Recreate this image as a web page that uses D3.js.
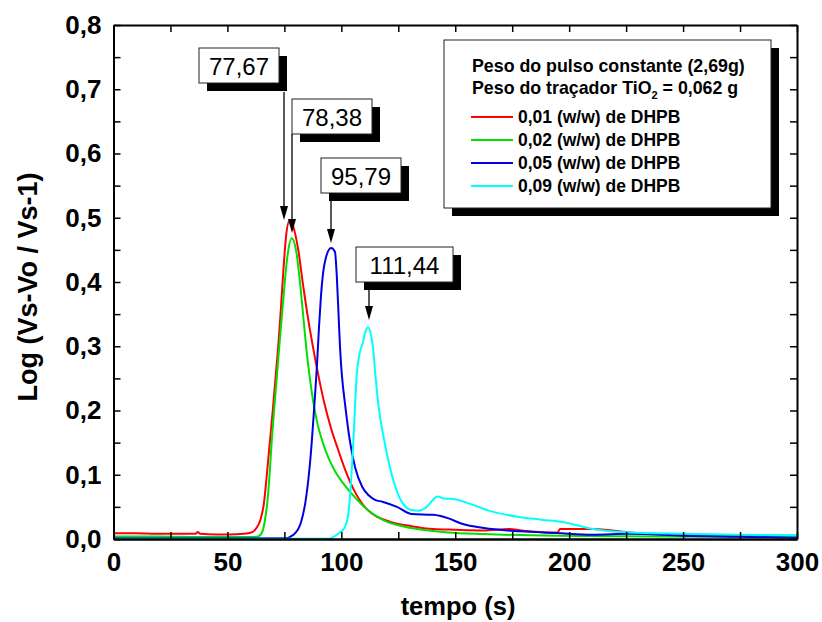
<!DOCTYPE html>
<html>
<head>
<meta charset="utf-8">
<script src="https://cdn.jsdelivr.net/npm/d3@7/dist/d3.min.js"></script>
<style>
  html, body { margin: 0; padding: 0; background: #fff; }
  svg { display: block; font-family: "Liberation Sans", Arial, sans-serif; }
</style>
</head>
<body>
<svg id="chart" width="822" height="622"></svg>
<script>
// ---------- DATA ----------
const seriesNames = ["0,01 (w/w) de DHPB", "0,02 (w/w) de DHPB", "0,05 (w/w) de DHPB", "0,09 (w/w) de DHPB"];
const seriesColors = ["#ff0000", "#00e000", "#0000e0", "#00ffff"];

// [tempo (s), Log(Vs-Vo/Vs-1)]
const red001 = [
  [0,0.009],[10,0.009],[20,0.008],[30,0.008],[36,0.008],[37,0.011],[38,0.008],[45,0.007],[51,0.007],[57,0.008],
  [60.5,0.010],[62.5,0.016],[64.5,0.030],[66,0.055],[67.3,0.100],[68.6,0.150],[69.9,0.200],[71.1,0.250],
  [72.3,0.300],[73.5,0.360],[74.6,0.420],[75.7,0.470],[77.2,0.495],[78.9,0.486],[81.1,0.450],[83.3,0.393],
  [85.5,0.341],[87.7,0.296],[89.9,0.255],[92.5,0.212],[95.5,0.172],[98.5,0.140],[102,0.105],[106,0.073],
  [111.6,0.045],[116,0.034],[121.2,0.027],[130.7,0.020],[140.3,0.0155],[149.8,0.0144],[162.6,0.0134],
  [173.7,0.0155],[180,0.013],[191.2,0.0103],[195,0.0105],[196,0.0155],[210.4,0.0155],[226,0.0103],
  [250,0.0067],[275,0.0058],[300,0.005]
];
const green002 = [
  [0,0.004],[20,0.004],[40,0.003],[55,0.003],[62,0.003],[64,0.005],[65.5,0.013],[66.5,0.030],[67.6,0.060],
  [68.6,0.105],[69.5,0.155],[70.6,0.205],[71.8,0.257],[73,0.310],[74.5,0.372],[76.3,0.439],[78.2,0.468],
  [80.1,0.450],[81.9,0.398],[83.3,0.346],[84.6,0.298],[86,0.255],[87.6,0.215],[89.5,0.180],[91.7,0.152],
  [94.5,0.125],[97.3,0.105],[100.5,0.088],[103.7,0.074],[110,0.050],[118,0.030],[130.7,0.017],
  [146.7,0.0103],[162.6,0.0077],[194.4,0.005],[242,0.004],[300,0.003]
];
const blue005 = [
  [0,0.001],[30,0.001],[60,0.001],[75,0.001],[79,0.0067],[82.2,0.025],[84.6,0.066],[86.5,0.128],[88.1,0.205],
  [89.3,0.270],[90.2,0.330],[91,0.375],[91.8,0.408],[93.3,0.439],[95.5,0.453],[97.2,0.447],[98,0.410],
  [98.7,0.356],[99.4,0.300],[100.2,0.257],[101.8,0.205],[103.7,0.154],[106,0.112],[109.2,0.081],[112,0.068],
  [114.8,0.061],[118,0.058],[124.4,0.050],[130.7,0.039],[140.3,0.0376],[146.7,0.0325],[153,0.0237],
  [162.6,0.017],[178.5,0.0119],[194.4,0.0093],[210.4,0.0067],[226.3,0.0082],[250,0.005],[275,0.0035],[300,0.002]
];
const cyan009 = [
  [0,0.0005],[40,0.0005],[80,0.0005],[94.1,0.0005],[98.9,0.009],[101.3,0.017],[102.9,0.035],[104,0.076],
  [105.3,0.154],[106.8,0.257],[108.1,0.290],[109.4,0.305],[110.5,0.322],[111.8,0.329],[113,0.318],[114,0.294],
  [114.9,0.257],[116.4,0.205],[118.8,0.154],[122,0.102],[126,0.061],[130.7,0.045],[133.9,0.044],[137.9,0.0515],
  [140.5,0.062],[142.3,0.066],[145.1,0.063],[149.8,0.062],[156.2,0.055],[165.8,0.043],[178.5,0.034],[188,0.030],
  [199.2,0.025],[210.4,0.0155],[226.3,0.0103],[250,0.0082],[273.9,0.0067],[300,0.0057]
];
const seriesData = [red001, green002, blue005, cyan009];

const xTicks = [0, 50, 100, 150, 200, 250, 300];
const xMinorTicks = [25, 75, 125, 175, 225, 275];
const yTicks = [0, 0.1, 0.2, 0.3, 0.4, 0.5, 0.6, 0.7, 0.8];
const yMinorTicks = [0.05, 0.15, 0.25, 0.35, 0.45, 0.55, 0.65, 0.75];

const peakLabels = ["77,67", "78,38", "95,79", "111,44"];
const legendTitle1 = "Peso do pulso constante (2,69g)";
const legendTitle2a = "Peso do traçador TiO";
const legendTitle2b = "2";
const legendTitle2c = " = 0,062 g";
const xTitle = "tempo (s)";
const yTitle = "Log (Vs-Vo / Vs-1)";

// ---------- LAYOUT ----------
const L = 113.5, R = 797, T = 25, B = 539;
const svg = d3.select("#chart");
const x = d3.scaleLinear().domain([0, 300]).range([L, R]);
const y = d3.scaleLinear().domain([0, 0.8]).range([B, T]);

svg.append("defs").append("clipPath").attr("id", "clip")
  .append("rect").attr("x", L).attr("y", T).attr("width", R - L).attr("height", B - T);

// curves
const line = d3.line().x(d => x(d[0])).y(d => y(d[1])).curve(d3.curveMonotoneX);
const gLines = svg.append("g").attr("clip-path", "url(#clip)");
seriesData.forEach((s, i) => {
  gLines.append("path").datum(s).attr("d", line)
    .attr("fill", "none").attr("stroke", seriesColors[i]).attr("stroke-width", 2)
    .attr("stroke-linejoin", "round");
});

// axes
const tickLen = 7;
function styleAxis(g) {
  g.selectAll(".domain").attr("stroke", "#000").attr("stroke-width", 2);
  g.selectAll(".tick line").attr("stroke", "#000").attr("stroke-width", 1.5);
  g.selectAll(".tick text").attr("fill", "#000").attr("font-weight", "bold").attr("font-size", 26)
    .attr("font-family", "'Liberation Sans', Arial, sans-serif");
}
svg.append("g").attr("transform", `translate(0,${B})`)
  .call(d3.axisBottom(x).tickValues(xTicks).tickSize(-tickLen).tickSizeOuter(0).tickPadding(14).tickFormat(d => String(d)))
  .call(styleAxis);
svg.append("g").attr("transform", `translate(0,${B})`)
  .call(d3.axisBottom(x).tickValues(xMinorTicks).tickSize(-tickLen).tickSizeOuter(0).tickFormat(""))
  .call(styleAxis);
svg.append("g").attr("transform", `translate(0,${T})`)
  .call(d3.axisTop(x).tickValues(xTicks.concat(xMinorTicks)).tickSize(-tickLen).tickSizeOuter(0).tickFormat(""))
  .call(styleAxis);
svg.append("g").attr("transform", `translate(${L},0)`)
  .call(d3.axisLeft(y).tickValues(yTicks).tickSize(-tickLen).tickSizeOuter(0).tickPadding(12).tickFormat(d => d.toFixed(1).replace(".", ",")))
  .call(styleAxis);
svg.append("g").attr("transform", `translate(${L},0)`)
  .call(d3.axisLeft(y).tickValues(yMinorTicks).tickSize(-tickLen).tickSizeOuter(0).tickFormat(""))
  .call(styleAxis);
svg.append("g").attr("transform", `translate(${R},0)`)
  .call(d3.axisRight(y).tickValues(yTicks.concat(yMinorTicks)).tickSize(-tickLen).tickSizeOuter(0).tickFormat(""))
  .call(styleAxis);

// axis titles
svg.append("text").attr("x", 458).attr("y", 615).attr("text-anchor", "middle")
  .attr("font-weight", "bold").attr("font-size", 25.5).text(xTitle);
svg.append("text").attr("transform", "translate(37,287) rotate(-90)").attr("text-anchor", "middle")
  .attr("font-weight", "bold").attr("font-size", 27).text(yTitle);

// annotations (boxes with drop shadows + arrows)
const annLayout = [
  { bx: 199, by: 48, bw: 80, bh: 35, ax: 284, ay0: 92, ay1: 220 },
  { bx: 292, by: 99, bw: 80, bh: 35, ax: 292, ay0: 134, ay1: 233 },
  { bx: 321, by: 158, bw: 80, bh: 35, ax: 331, ay0: 193, ay1: 243 },
  { bx: 356, by: 247, bw: 97, bh: 35, ax: 369, ay0: 290, ay1: 320 }
];
const gAnn = svg.append("g");
peakLabels.forEach((lab, i) => {
  const a = annLayout[i];
  gAnn.append("rect").attr("x", a.bx + 8).attr("y", a.by + 8).attr("width", a.bw).attr("height", a.bh).attr("fill", "#000");
  gAnn.append("rect").attr("x", a.bx).attr("y", a.by).attr("width", a.bw).attr("height", a.bh)
    .attr("fill", "#fff").attr("stroke", "#222").attr("stroke-width", 1);
  gAnn.append("text").attr("x", a.bx + a.bw / 2).attr("y", a.by + a.bh / 2 + 9).attr("text-anchor", "middle")
    .attr("font-size", 24).attr("fill", "#000").text(lab);
  gAnn.append("line").attr("x1", a.ax).attr("x2", a.ax).attr("y1", a.ay0).attr("y2", a.ay1 - 10)
    .attr("stroke", "#000").attr("stroke-width", 1.3);
  gAnn.append("path").attr("d", `M${a.ax - 4},${a.ay1 - 14} L${a.ax + 4},${a.ay1 - 14} L${a.ax},${a.ay1} Z`).attr("fill", "#000");
});

// legend
const lg = svg.append("g");
lg.append("rect").attr("x", 452).attr("y", 48).attr("width", 327).attr("height", 168).attr("fill", "#000");
lg.append("rect").attr("x", 444).attr("y", 40).attr("width", 327).attr("height", 168)
  .attr("fill", "#fff").attr("stroke", "#222").attr("stroke-width", 1);
lg.append("text").attr("x", 472).attr("y", 72).attr("font-weight", "bold").attr("font-size", 17.8).text(legendTitle1);
const t2 = lg.append("text").attr("x", 472).attr("y", 94).attr("font-weight", "bold").attr("font-size", 17.8);
t2.append("tspan").text(legendTitle2a);
t2.append("tspan").attr("font-size", 11).attr("dy", 5).text(legendTitle2b);
t2.append("tspan").attr("dy", -5).text(legendTitle2c);
const legY = [117, 140, 163, 186];
seriesNames.forEach((n, i) => {
  lg.append("line").attr("x1", 471).attr("x2", 513).attr("y1", legY[i]).attr("y2", legY[i])
    .attr("stroke", seriesColors[i]).attr("stroke-width", 2);
  lg.append("text").attr("x", 518).attr("y", legY[i] + 6).attr("font-weight", "bold").attr("font-size", 17.5).text(n);
});
</script>
</body>
</html>
